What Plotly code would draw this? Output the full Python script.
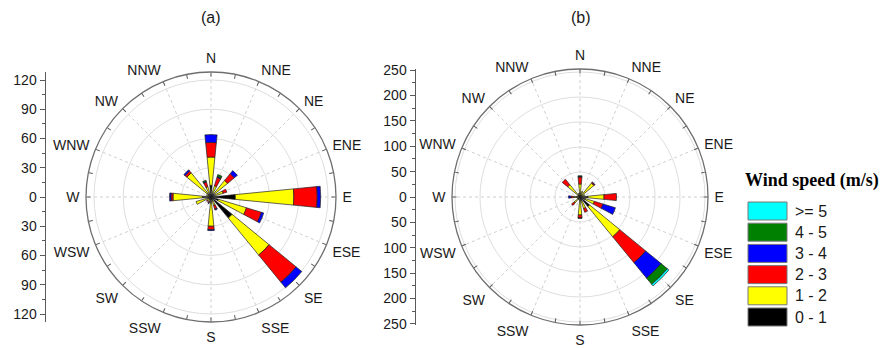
import plotly.graph_objects as go

# 16 compass sectors, clockwise from north
directions = ["N", "NNE", "NE", "ENE", "E", "ESE", "SE", "SSE",
              "S", "SSW", "SW", "WSW", "W", "WNW", "NW", "NNW"]
bearings = [i * 22.5 for i in range(16)]
tick_bearings = [i * 11.25 for i in range(32)]

# wind-speed classes, stacked from the centre outwards
speed_bins = ["0 - 1", "1 - 2", "2 - 3", "3 - 4", "4 - 5", ">= 5"]
bin_colors = ["#000000", "#FFFF00", "#FF0000", "#0000FF", "#008000", "#00FFFF"]

# station (a): frequency per direction for each speed class
a_0_1 = [12, 4, 5, 4, 25, 8, 28, 4, 6, 3, 3, 4, 9, 3, 5, 4]
a_1_2 = [29, 8, 17, 9, 60, 30, 49, 5, 24, 2, 2, 12, 30, 2, 27, 7]
a_2_3 = [15, 9, 9, 4, 24, 16, 36, 4, 3.5, 1.5, 1, 0, 2, 0, 2.5, 5]
a_3_4 = [8, 1, 4, 0, 3.5, 2.5, 7.5, 1, 1, 0.5, 0, 0, 1.5, 0, 1.5, 1]
a_4_5 = [0, 2, 0, 0, 0, 0, 0, 0, 0, 0, 0, 0, 0, 0, 0, 1]
a_5up = [0, 0, 0, 0, 0, 0, 0, 0, 0, 0, 0, 0, 0, 0, 0, 0]

# station (b)
b_0_1 = [8, 4, 5, 4, 16, 12, 25, 8, 8, 3, 6, 3, 8, 3, 6, 4]
b_1_2 = [18, 8, 31, 6, 32, 18, 78, 16, 28, 3, 10, 3, 4, 2, 26, 4]
b_2_3 = [14, 0, 2, 0, 25, 18, 67, 8, 6, 0, 6, 0, 6, 0, 14, 0]
b_3_4 = [1, 0, 1, 0, 0, 26, 40, 0, 0.5, 0, 0, 0, 5, 0, 0, 0]
b_4_5 = [1.5, 0, 0, 0, 0, 0, 16, 0, 0, 0, 0, 0, 0, 0, 0, 0]
b_5up = [0, 0, 0, 0, 0, 0, 4, 0, 0, 0, 0, 0, 0, 0, 0, 0]

# radial scales (outer frame radius) and the side scale bars
a_rmax = 128.2
a_rings = [30, 60, 90, 120]
a_ticks = [-120, -90, -60, -30, 0, 30, 60, 90, 120]
a_bar = 128.2
b_rmax = 256
b_rings = [50, 100, 150, 200, 250]
b_ticks = [-250, -200, -150, -100, -50, 0, 50, 100, 150, 200, 250]
b_bar = 252

W, H = 891, 348
FONT = "Liberation Sans, Arial, sans-serif"
AX = "#5a5a5a"

fig = go.Figure()

station_a = [a_0_1, a_1_2, a_2_3, a_3_4, a_4_5, a_5up]
station_b = [b_0_1, b_1_2, b_2_3, b_3_4, b_4_5, b_5up]
for subplot, series in (("polar", station_a), ("polar2", station_b)):
    for name, color, values in zip(speed_bins, bin_colors, series):
        fig.add_trace(go.Barpolar(
            r=values, theta=bearings, width=[11.25] * 16,
            name=name, subplot=subplot, showlegend=False,
            marker=dict(color=color, line=dict(color="#222222", width=0.7)),
        ))

# empty overlays that only draw the fine tick ring on each frame
for subplot in ("polar3", "polar4"):
    fig.add_trace(go.Barpolar(r=[], theta=[], subplot=subplot, showlegend=False))

# hidden cartesian subplots that only carry the vertical scale bars
fig.add_trace(go.Scatter(x=[], y=[], xaxis="x", yaxis="y", showlegend=False))
fig.add_trace(go.Scatter(x=[], y=[], xaxis="x2", yaxis="y2", showlegend=False))


def polar_layout(xdom, ydom, rmax, rings):
    return dict(
        domain=dict(x=xdom, y=ydom),
        bgcolor="white",
        barmode="stack",
        bargap=0,
        radialaxis=dict(
            range=[0, rmax], tickmode="array", tickvals=rings,
            showticklabels=False, ticks="", showline=False,
            gridcolor="#dedede", gridwidth=1,
        ),
        angularaxis=dict(
            rotation=90, direction="clockwise",
            tickmode="array", tickvals=bearings, ticktext=directions,
            ticks="outside", ticklen=3, tickcolor="rgba(0,0,0,0)",
            linecolor="#6e6e6e", linewidth=1.3,
            showgrid=True, gridcolor="#cfcfcf", griddash="dot", gridwidth=1,
            tickfont=dict(family=FONT, size=14, color="#1a1a1a"),
        ),
    )


def tick_ring(xdom, ydom, rmax):
    return dict(
        domain=dict(x=xdom, y=ydom),
        bgcolor="rgba(0,0,0,0)",
        radialaxis=dict(range=[0, rmax], visible=False),
        angularaxis=dict(
            rotation=90, direction="clockwise",
            tickmode="array", tickvals=tick_bearings,
            showticklabels=False, ticks="inside", ticklen=4, tickcolor=AX,
            showline=False, showgrid=False,
        ),
    )


def scale_axis(pos, ydom, rmax, ticks, minor_step):
    return dict(
        anchor="free", position=pos, side="left", domain=ydom, automargin=False,
        range=[-rmax, rmax], tickmode="array", tickvals=ticks,
        ticktext=[str(abs(t)) for t in ticks],
        ticks="outside", ticklen=5, tickcolor=AX,
        showline=True, linecolor=AX, linewidth=1,
        showgrid=False, zeroline=False,
        minor=dict(tickmode="linear", tick0=0, dtick=minor_step,
                   ticks="outside", ticklen=3, tickcolor=AX),
        tickfont=dict(family=FONT, size=14, color="#1a1a1a"),
    )


a_x = [86 / W, 336 / W]
a_y = [1 - 322 / H, 1 - 72 / H]
b_x = [452 / W, 708 / W]
b_y = [1 - 325 / H, 1 - 69 / H]

fig.update_layout(
    width=W, height=H,
    margin=dict(l=0, r=0, t=0, b=0, pad=0, autoexpand=False),
    paper_bgcolor="white", plot_bgcolor="rgba(0,0,0,0)",
    polar=polar_layout(a_x, a_y, a_rmax, a_rings),
    polar2=polar_layout(b_x, b_y, b_rmax, b_rings),
    polar3=tick_ring(a_x, a_y, a_rmax),
    polar4=tick_ring(b_x, b_y, b_rmax),
    xaxis=dict(domain=[0, 0.01], visible=False, automargin=False),
    xaxis2=dict(domain=[0.42, 0.43], visible=False, automargin=False, anchor="y2"),
    yaxis=scale_axis(44.5 / W, a_y, a_bar, a_ticks, 15),
    yaxis2=scale_axis(414.5 / W, b_y, b_bar, b_ticks, 25),
    showlegend=False,
)

# panel captions
for label, cx in (("(a)", 211), ("(b)", 581)):
    fig.add_annotation(text=label, x=cx / W, y=1 - 18 / H, xref="paper", yref="paper",
                       xanchor="center", yanchor="middle", showarrow=False,
                       font=dict(family=FONT, size=16, color="#1a1a1a"))

# speed-class key, highest class on top
fig.add_annotation(text="<b>Wind speed (m/s)</b>", x=812 / W, y=1 - 181 / H,
                   xref="paper", yref="paper", xanchor="center", yanchor="middle",
                   showarrow=False,
                   font=dict(family="Liberation Serif, Times New Roman, serif", size=18, color="black"))
key_top, key_pitch, key_h = 202, 21.2, 18
for i, (name, color) in enumerate(zip(reversed(speed_bins), reversed(bin_colors))):
    y0 = key_top + i * key_pitch
    fig.add_shape(type="rect", xref="paper", yref="paper",
                  x0=748 / W, x1=787 / W, y0=1 - (y0 + key_h) / H, y1=1 - y0 / H,
                  fillcolor=color, line=dict(color="#777777", width=1))
    fig.add_annotation(text=name, x=793 / W, y=1 - (y0 + key_h / 2) / H,
                       xref="paper", yref="paper", xanchor="left", yanchor="middle",
                       showarrow=False,
                       font=dict(family=FONT, size=16, color="#1a1a1a"))

fig.write_html("out.html")
